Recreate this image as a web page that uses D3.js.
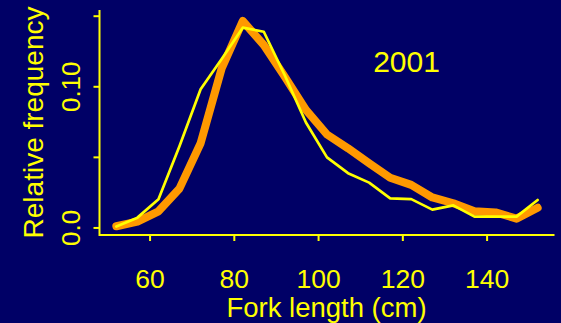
<!DOCTYPE html>
<html>
<head>
<meta charset="utf-8">
<script src="https://cdn.jsdelivr.net/npm/d3@7"></script>
<style>
  html, body { margin: 0; padding: 0; background: #000066; }
  svg { display: block; }
  text { font-family: "Liberation Sans", Arial, sans-serif; fill: #ffff00; }
</style>
</head>
<body>
<div id="chart"></div>
<script>
// Längenklassen (Mitte), 5 cm breit
const lengths = [52, 57, 62, 67, 72, 77, 82, 87, 92, 97, 102, 107, 112, 117, 122, 127, 132, 137, 142, 147, 152];

// beobachtet (gelb, dünn)
const observed = [0.001, 0.0073, 0.0203, 0.058, 0.0982, 0.1197, 0.1419, 0.139, 0.108, 0.0747, 0.050,
    0.0388, 0.0321, 0.021, 0.0204, 0.013, 0.016, 0.008, 0.008, 0.008, 0.0198];

// Modell (orange, dick)
const predicted = [0.0012, 0.0045, 0.0118, 0.028, 0.060, 0.113, 0.1466, 0.1296, 0.107, 0.0836, 0.0662,
    0.0564, 0.0458, 0.0355, 0.0305, 0.0216, 0.0175, 0.0119, 0.011, 0.0066, 0.0143];

const xTicks = [60, 80, 100, 120, 140];
const yTicks = [0, 0.05, 0.10, 0.15];
const yTickLabels = ["0.0", "", "0.10", ""];
const yearLabel = "2001";

const width = 561, height = 323;
const yellow = "#ffff00", orange = "#ff9900";

const svg = d3.select("#chart").append("svg")
    .attr("width", width)
    .attr("height", height);

svg.append("rect").attr("width", width).attr("height", height).attr("fill", "#000066");

const x = d3.scaleLinear().domain([48, 156]).range([99.5, 554.5]);
const y = d3.scaleLinear().domain([-0.005, 0.1544]).range([235, 10]);

// Achsen (L-Form)
const axisG = svg.append("g").attr("stroke", yellow).attr("stroke-width", 2).attr("fill", "none");
axisG.append("path")
    .attr("d", `M${x.range()[0]},${y.range()[1]}V${y.range()[0]}H${x.range()[1]}`);

axisG.selectAll(".xt").data(xTicks).join("line")
    .attr("x1", d => x(d)).attr("x2", d => x(d))
    .attr("y1", y.range()[0]).attr("y2", y.range()[0] + 6);

axisG.selectAll(".yt").data(yTicks).join("line")
    .attr("x1", x.range()[0] - 6).attr("x2", x.range()[0])
    .attr("y1", d => y(d)).attr("y2", d => y(d));

// Tick-Beschriftungen
svg.selectAll(".xl").data(xTicks).join("text")
    .attr("x", d => x(d))
    .attr("y", 288)
    .attr("text-anchor", "middle")
    .attr("font-size", "26.5px")
    .text(d => d);

svg.selectAll(".yl").data(yTicks).join("text")
    .attr("transform", d => `translate(80,${y(d)}) rotate(-90)`)
    .attr("text-anchor", "middle")
    .attr("font-size", "26px")
    .text((d, i) => yTickLabels[i]);

// Achsentitel
svg.append("text")
    .attr("x", 326.5).attr("y", 317)
    .attr("text-anchor", "middle")
    .attr("font-size", "27.5px")
    .text("Fork length (cm)");

svg.append("text")
    .attr("transform", "translate(43,122.5) rotate(-90)")
    .attr("text-anchor", "middle")
    .attr("font-size", "28px")
    .text("Relative frequency");

svg.append("text")
    .attr("x", 406.5).attr("y", 72)
    .attr("text-anchor", "middle")
    .attr("font-size", "30px")
    .text(yearLabel);

// Linien
const line = d3.line()
    .x((d, i) => x(lengths[i]))
    .y(d => y(d));

svg.append("path")
    .datum(predicted)
    .attr("d", line)
    .attr("fill", "none")
    .attr("stroke", orange)
    .attr("stroke-width", 8)
    .attr("stroke-linejoin", "round")
    .attr("stroke-linecap", "round");

svg.append("path")
    .datum(observed)
    .attr("d", line)
    .attr("fill", "none")
    .attr("stroke", yellow)
    .attr("stroke-width", 2.7)
    .attr("stroke-linejoin", "round")
    .attr("stroke-linecap", "round");
</script>
</body>
</html>
